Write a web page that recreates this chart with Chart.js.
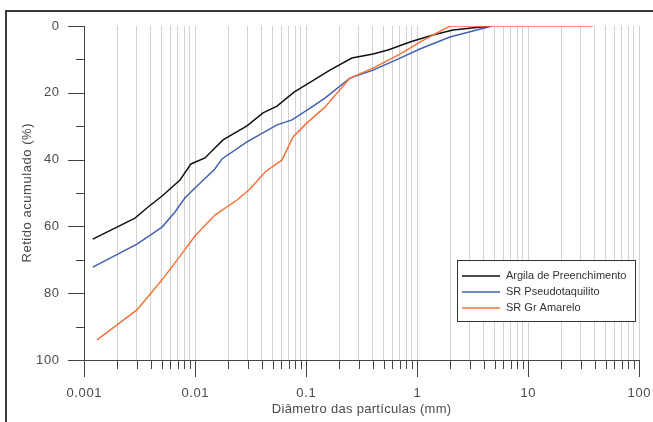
<!DOCTYPE html>
<html><head><meta charset="utf-8">
<script src="https://cdn.jsdelivr.net/npm/chart.js@4.4.0/dist/chart.umd.min.js"></script>
<style>
html,body{margin:0;padding:0;background:#fff;}
#wrap{position:relative;width:653px;height:422px;overflow:hidden;background:#fff;}
#frame{position:absolute;left:5px;top:10px;width:700px;height:500px;border-left:2px solid #3a3a3a;border-top:2px solid #3a3a3a;}
canvas{position:absolute;left:0;top:0;}
</style></head><body>
<div id="wrap"><div id="frame"></div><canvas id="c" width="653" height="422"></canvas></div>
<script>
// ---- data (diameter in mm, retained %) ----
const argilaD = [0.0012,0.00288,0.00378,0.00505,0.00733,0.0092,0.0123,0.0151,0.0179,0.0294,0.041,0.0548,0.078,0.106,0.164,0.259,0.402,0.548,0.865,1.39,2.11,4.6];
const argilaV = [63.8,57.5,54.2,50.9,46.1,41.3,39.5,36.5,34.1,29.9,26.0,24.0,19.8,17.1,13.2,9.6,8.4,7.2,4.8,2.7,1.2,0];
const pseudoD = [0.0012,0.0030,0.00505,0.0066,0.0081,0.0100,0.0151,0.0175,0.0294,0.0548,0.0748,0.109,0.148,0.249,0.402,0.703,1.06,1.98,4.74];
const pseudoV = [72.2,65.3,60.2,55.7,51.5,48.5,42.8,39.8,34.7,29.6,28.1,24.6,21.6,15.6,13.2,9.6,6.9,3.3,0];
const amareloD = [0.00131,0.0030,0.00505,0.00733,0.0100,0.0151,0.0239,0.0313,0.0428,0.0608,0.0764,0.102,0.148,0.249,0.402,0.703,1.06,1.98,38.5];
const amareloV = [94.0,85.0,76.0,68.9,62.9,56.6,52.1,48.8,43.7,40.1,33.2,29.0,24.3,15.6,12.6,8.4,4.8,0,0];
const seriesNames = ['Argila de Preenchimento','SR Pseudotaquilito','SR Gr Amarelo'];
const xTickValues = [0.001,0.01,0.1,1,10,100];
const xTickLabels = ['0.001','0.01','0.1','1','10','100'];
const yTickValues = [0,20,40,60,80,100];
const yTickLabels = ['0','20','40','60','80','100'];
const xTitle = 'Diâmetro das partículas (mm)';
const yTitle = 'Retido acumulado (%)';

const colors = ['#111111','#4160b0','#f5733a'];
const FONT = "'Liberation Sans', Arial, sans-serif";

function pts(d,v){ return d.map((x,i)=>({x:x,y:v[i]})); }
function isDecade(v){ const l=Math.log10(v); return Math.abs(l-Math.round(l))<1e-6; }
function spacedText(ctx,text,x,y,align,sp){
  // draws text with letter spacing, aligned manually
  ctx.letterSpacing = sp+'px';
  const w = ctx.measureText(text).width - sp;
  ctx.textAlign='left';
  let sx = x;
  if(align==='center') sx = x - w/2; else if(align==='right') sx = x - w;
  ctx.fillText(text,sx,y);
  ctx.letterSpacing='0px';
}

const decorPlugin = {
  id:'decor',
  afterDraw(chart){
    const {ctx, scales:{x,y}, chartArea:a} = chart;
    ctx.save();
    // tick marks
    ctx.strokeStyle='#444'; ctx.lineWidth=1;
    ctx.beginPath();
    x.ticks.forEach(t=>{
      const px=Math.round(x.getPixelForValue(t.value))+0.5;
      const len = isDecade(t.value)?17:9;
      ctx.moveTo(px,a.bottom); ctx.lineTo(px,a.bottom+len);
    });
    y.ticks.forEach(t=>{
      const py=Math.round(y.getPixelForValue(t.value))+0.5;
      const len = (t.value%20===0)?16:8;
      ctx.moveTo(a.left,py); ctx.lineTo(a.left-len,py);
    });
    ctx.stroke();
    // tick labels
    ctx.fillStyle='#4a4a4a'; ctx.font='13px '+FONT; ctx.textBaseline='middle';
    xTickValues.forEach((v,i)=>{ spacedText(ctx,xTickLabels[i], x.getPixelForValue(v), a.bottom+33,'center',0.6); });
    yTickValues.forEach((v,i)=>{ spacedText(ctx,yTickLabels[i], a.left-25, y.getPixelForValue(v),'right',0.6); });
    // axis titles
    ctx.font='13px '+FONT;
    spacedText(ctx,xTitle,(a.left+a.right)/2,a.bottom+49,'center',0.3);
    ctx.save(); ctx.translate(27,(a.top+a.bottom)/2); ctx.rotate(-Math.PI/2);
    spacedText(ctx,yTitle,0,0,'center',0.55); ctx.restore();
    // legend box
    const bx=457.5, by=260.5, bw=178, bh=61;
    ctx.fillStyle='#fff'; ctx.fillRect(bx,by,bw,bh);
    ctx.strokeStyle='#333'; ctx.lineWidth=1; ctx.strokeRect(bx,by,bw,bh);
    ctx.font='11px '+FONT; ctx.textBaseline='middle'; ctx.textAlign='left';
    seriesNames.forEach((n,i)=>{
      const ly=276+i*16;
      ctx.strokeStyle=colors[i]; ctx.lineWidth=1.5;
      ctx.beginPath(); ctx.moveTo(462,ly); ctx.lineTo(500,ly); ctx.stroke();
      ctx.fillStyle='#333'; ctx.fillText(n,506,ly);
    });
    ctx.restore();
  }
};

new Chart(document.getElementById('c'),{
  type:'line',
  data:{datasets:[
    {label:seriesNames[0],data:pts(argilaD,argilaV),borderColor:colors[0],borderWidth:1.5,pointRadius:0,fill:false,tension:0,order:1},
    {label:seriesNames[1],data:pts(pseudoD,pseudoV),borderColor:colors[1],borderWidth:1.5,pointRadius:0,fill:false,tension:0,order:2},
    {label:seriesNames[2],data:pts(amareloD,amareloV),borderColor:colors[2],borderWidth:1.5,pointRadius:0,fill:false,tension:0,order:0}
  ]},
  options:{
    responsive:false, animation:false,
    layout:{padding:{top:26,right:14,left:0,bottom:0}},
    plugins:{legend:{display:false},tooltip:{enabled:false}},
    scales:{
      x:{type:'logarithmic',min:0.001,max:100,
        afterBuildTicks(s){const t=[];for(let e=-3;e<=2;e++){for(let m=1;m<=9;m++){const v=+(m*Math.pow(10,e)).toPrecision(6);if(v<=100)t.push({value:v});}}s.ticks=t;},
        afterFit(s){s.height=62;s.paddingLeft=0;s.paddingRight=0;s.paddingTop=0;s.paddingBottom=0;},
        ticks:{display:false,autoSkip:false},
        grid:{drawTicks:false,color:(c)=>(c.tick&&Math.abs(c.tick.value-0.001)<1e-9)?'rgba(0,0,0,0)':'#d2d2d2',lineWidth:1},
        border:{display:true,color:'#444',width:1}
      },
      y:{type:'linear',min:0,max:100,reverse:true,
        afterBuildTicks(s){const t=[];for(let v=0;v<=100;v+=10)t.push({value:v});s.ticks=t;},
        afterFit(s){s.width=84;s.paddingLeft=0;s.paddingRight=0;s.paddingTop=0;s.paddingBottom=0;},
        ticks:{display:false,autoSkip:false},
        grid:{display:false},
        border:{display:true,color:'#444',width:1}
      }
    }
  },
  plugins:[decorPlugin]
});
</script>
</body></html>
